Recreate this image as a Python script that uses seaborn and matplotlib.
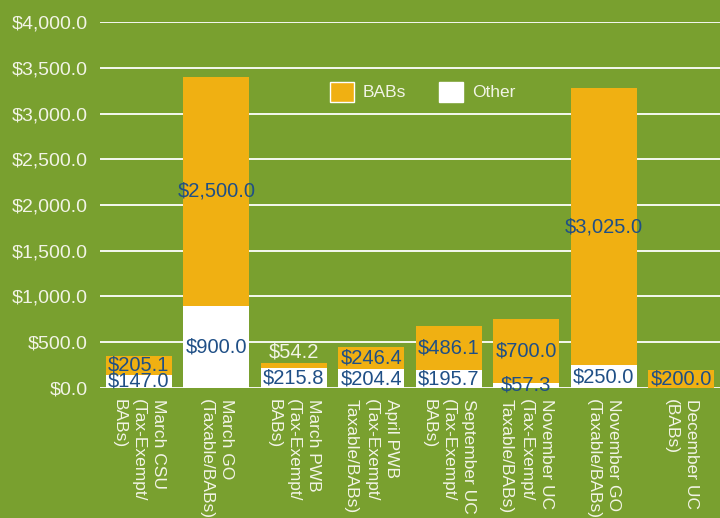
import numpy as np
import pandas as pd
import matplotlib
matplotlib.use('Agg')
import matplotlib.pyplot as plt
import seaborn as sns
from matplotlib.patches import Patch

# 数据
categories = ['March CSU\n(Tax-Exempt/\nBABs)', 'March GO\n(Taxable/BABs)', 'March PWB\n(Tax-Exempt/\nBABs)',
              'April PWB\n(Tax-Exempt/\nTaxable/BABs)', 'September UC\n(Tax-Exempt/\nBABs)',
              'November UC\n(Tax-Exempt/\nTaxable/BABs)', 'November GO\n(Taxable/BABs)', 'December UC\n(BABs)']
babs = [205.1, 2500.0, 54.2, 246.4, 486.1, 700.0, 3025.0, 200.0]
other = [147.0, 900.0, 215.8, 204.4, 195.7, 57.3, 250.0, 0.0]
yticks = [0, 500, 1000, 1500, 2000, 2500, 3000, 3500, 4000]

bg = '#79a02f'
orange = '#f0b012'
label_blue = '#1f4f86'
light = '#f2f4e6'

df = pd.DataFrame({'cat': categories, 'BABs': babs, 'Other': other})
df['total'] = df['BABs'] + df['Other']

sns.set_style('white')
plt.rcParams['font.family'] = ['Liberation Sans', 'DejaVu Sans']

fig = plt.figure(figsize=(7.2, 5.18), dpi=100)
fig.patch.set_facecolor(bg)
ax = fig.add_axes([0.139, 0.251, 0.861, 0.7065])
ax.set_facecolor(bg)

# 堆叠柱：先画总高度（橙色），再画Other（白色）
sns.barplot(data=df, x='cat', y='total', color=orange, saturation=1, width=0.85, ax=ax,
            linewidth=0, edgecolor='none', zorder=3)
sns.barplot(data=df, x='cat', y='Other', color='white', saturation=1, width=0.85, ax=ax,
            linewidth=0, edgecolor='none', zorder=3)

ax.set_ylim(0, 4000)
ax.set_xlim(-0.5, len(categories) - 0.5)
ax.set_yticks(yticks)
ax.set_yticklabels([f'${v:,.1f}' for v in yticks], fontsize=14, color=light)
ax.yaxis.grid(True, color='white', linewidth=1.3, zorder=0)
ax.set_axisbelow(True)
ax.tick_params(axis='y', length=0, pad=9)
ax.tick_params(axis='x', length=0, pad=8)
ax.set_xticks(range(len(categories)))
ax.set_xticklabels(categories, rotation=-90, fontsize=12.5, color=light,
                   ha='center', va='top', multialignment='left', linespacing=1.4)
ax.set_xlabel('')
ax.set_ylabel('')
for s in ax.spines.values():
    s.set_visible(False)

# 数值标签
for i, (b, o) in enumerate(zip(babs, other)):
    if b < 100:
        ax.text(i, o + b + 20, f'${b:,.1f}', ha='center', va='bottom', fontsize=14.5, color=light, zorder=5)
    else:
        ax.text(i, o + b / 2, f'${b:,.1f}', ha='center', va='center', fontsize=14.5, color=label_blue, zorder=5)
    if o > 0:
        ax.text(i, o / 2, f'${o:,.1f}', ha='center', va='center', fontsize=14.5, color=label_blue, zorder=5)

handles = [Patch(facecolor=orange, label='BABs'), Patch(facecolor='white', label='Other')]
leg = ax.legend(handles=handles, loc='center', bbox_to_anchor=(0.52, 0.81), ncol=2, frameon=False,
                fontsize=12.5, handlelength=1.4, handleheight=1.4, columnspacing=1.9, handletextpad=0.5)
for t in leg.get_texts():
    t.set_color(light)

plt.savefig('out.png', dpi=100, facecolor=bg)
